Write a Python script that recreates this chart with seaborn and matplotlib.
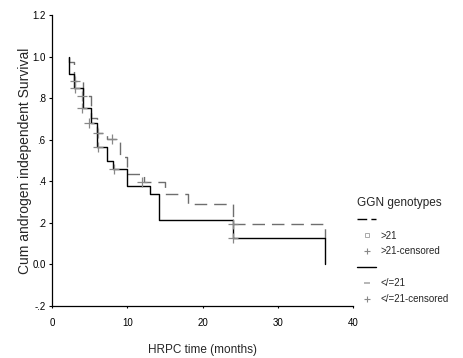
import matplotlib
matplotlib.use("Agg")
import matplotlib.pyplot as plt
from matplotlib.lines import Line2D
import seaborn as sns

# GGN > 21 (dashed curve)
gt21_time = [2.2, 2.26, 2.9, 4.16, 5.13, 6.02, 7.26, 9.03, 10.0, 12.2, 15.0, 18.1, 24.0, 36.3]
gt21_surv = [1.0, 0.974, 0.882, 0.810, 0.704, 0.633, 0.604, 0.515, 0.435, 0.395, 0.338, 0.293, 0.193, 0.129]
gt21_cens_time = [3.0, 4.0, 6.15, 8.0, 12.0, 24.0]
gt21_cens_surv = [0.882, 0.810, 0.633, 0.604, 0.395, 0.193]

# GGN </= 21 (solid curve)
le21_time = [2.2, 2.26, 2.9, 4.16, 5.13, 6.02, 7.26, 8.14, 10.0, 13.0, 14.25, 24.0, 36.3]
le21_surv = [1.0, 0.914, 0.849, 0.752, 0.681, 0.564, 0.499, 0.459, 0.378, 0.338, 0.213, 0.129, 0.0]
le21_cens_time = [3.0, 4.0, 4.9, 6.15, 8.2, 24.0]
le21_cens_surv = [0.849, 0.752, 0.681, 0.564, 0.459, 0.129]

y_ticks = [-0.2, 0.0, 0.2, 0.4, 0.6, 0.8, 1.0, 1.2]
y_tick_labels = ["-.2", "0.0", ".2", ".4", ".6", ".8", "1.0", "1.2"]
x_ticks = [0, 10, 20, 30, 40]

sns.set_style("ticks")
plt.rcParams["font.family"] = ["Liberation Sans", "DejaVu Sans"]

fig = plt.figure(figsize=(4.63, 3.58), dpi=100)
ax = fig.add_axes([52 / 463, 1 - 306 / 358, 301 / 463, 291 / 358])

grey = "#6e6e6e"
sns.lineplot(x=gt21_time, y=gt21_surv, ax=ax, estimator=None, sort=False,
             drawstyle="steps-post", color=grey, linewidth=1.0, ls=(0, (9, 5)))
sns.lineplot(x=le21_time, y=le21_surv, ax=ax, estimator=None, sort=False,
             drawstyle="steps-post", color="black", linewidth=1.0)
sns.scatterplot(x=gt21_cens_time, y=gt21_cens_surv, ax=ax, marker="+",
                color="#888888", s=45, linewidth=0.9, zorder=3)
sns.scatterplot(x=le21_cens_time, y=le21_cens_surv, ax=ax, marker="+",
                color="#888888", s=45, linewidth=0.9, zorder=3)

ax.set_xlim(0, 40)
ax.set_ylim(-0.2, 1.2)
ax.set_xticks(x_ticks)
ax.set_yticks(y_ticks)
ax.set_yticklabels(y_tick_labels)
ax.tick_params(axis="both", labelsize=7, width=0.8, colors="black")
ax.tick_params(axis="y", length=2.5, pad=2)
ax.tick_params(axis="x", length=1.5, pad=7)
for side in ["top", "right"]:
    ax.spines[side].set_visible(False)
for side in ["left", "bottom"]:
    ax.spines[side].set_linewidth(0.9)
    ax.spines[side].set_color("black")

ax.set_xlabel("HRPC time (months)", fontsize=8.5, labelpad=12)
ax.set_ylabel("Cum androgen independent Survival", fontsize=10, labelpad=0)

handles = [
    Line2D([], [], color="black", lw=1.0, ls=(0, (7, 3))),
    Line2D([], [], ls="none", marker="s", ms=3, mfc="none", mec="#aaaaaa", mew=0.7),
    Line2D([], [], ls="none", marker="+", ms=5, color="#888888", mew=0.8),
    Line2D([], [], color="black", lw=1.0),
    Line2D([], [], ls="none", marker="_", ms=4, color="#aaaaaa", mew=1.2),
    Line2D([], [], ls="none", marker="+", ms=5, color="#888888", mew=0.8),
]
labels = ["", ">21", ">21-censored", "", "</=21", "</=21-censored"]
leg = ax.legend(handles, labels, title="GGN genotypes", frameon=False,
                loc="upper left", bbox_to_anchor=(357 / 463, 1 - 197 / 358),
                bbox_transform=fig.transFigure, fontsize=7, title_fontsize=8.5,
                handlelength=2.0, handletextpad=0.4, labelspacing=0.6,
                borderaxespad=0, borderpad=0)
leg._legend_box.align = "left"

fig.savefig("out.png", dpi=100)
